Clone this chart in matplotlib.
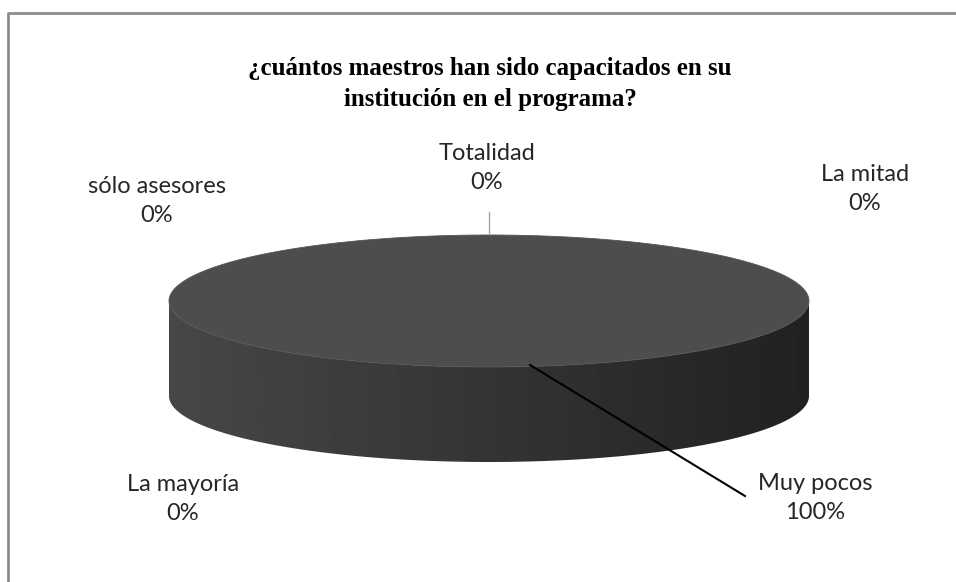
import numpy as np
import matplotlib
matplotlib.use("Agg")
import matplotlib.pyplot as plt
from matplotlib.patches import Polygon

# data
categories = ["Totalidad", "La mitad", "Muy pocos", "La mayoría", "sólo asesores"]
values = [0, 0, 100, 0, 0]
slice_colors = ["#4d4d4d", "#4d4d4d", "#4d4d4d", "#4d4d4d", "#4d4d4d"]
title = "¿cuántos maestros han sido capacitados en su\ninstitución en el programa?"

# label anchor positions (pixels) as Excel placed them
label_pos = [(487, 168), (865, 189), (815, 498), (183, 499), (157, 201)]

W, H = 956, 582
fig = plt.figure(figsize=(W / 100, H / 100), dpi=100)
ax = fig.add_axes([0, 0, 1, 1])
ax.set_xlim(0, W)
ax.set_ylim(H, 0)
ax.axis("off")

# chart frame
ax.plot([8, 8, W + 5], [H + 5, 13, 13], color="#8c8c8c", lw=2, solid_capstyle="butt")

cx, cy, rx, ry, depth = 489, 301, 320, 66, 95


def ell(theta, dy=0):
    # theta clockwise from top
    return cx + rx * np.sin(theta), cy - ry * np.cos(theta) + dy


# side (front half) with gradient
th = np.linspace(np.pi / 2, 3 * np.pi / 2, 200)
xt, yt = ell(th)
xb, yb = ell(th[::-1], depth)
side = Polygon(np.column_stack([np.r_[xt, xb], np.r_[yt, yb]]), closed=True,
               facecolor="none", edgecolor="none")
ax.add_patch(side)
grad = np.linspace(0.28, 0.13, 256)[None, :]
img = ax.imshow(grad, cmap="gray", vmin=0, vmax=1, aspect="auto",
                extent=[cx - rx, cx + rx, cy + ry + depth, cy], interpolation="bilinear")
img.set_clip_path(side)

# top face from the data
total = sum(values)
start = 0.0
for v, c in zip(values, slice_colors):
    if v <= 0:
        continue
    span = 2 * np.pi * v / total
    t = np.linspace(start, start + span, 300)
    x, y = ell(t)
    if span < 2 * np.pi - 1e-9:
        x, y = np.r_[cx, x], np.r_[cy, y]
    ax.add_patch(Polygon(np.column_stack([x, y]), closed=True, facecolor=c,
                         edgecolor="#555555", lw=0.6))
    start += span

# labels
for name, v, (lx, ly) in zip(categories, values, label_pos):
    pct = 100 * v / total
    ax.text(lx, ly, f"{name}\n{pct:.0f}%", ha="center", va="center",
            fontsize=17, family="Lato", color="#262626", linespacing=1.45)

# leader lines
ax.plot([489, 489], [212, 234], color="#a6a6a6", lw=1)
ax.plot([530, 745], [365, 496], color="black", lw=1.5)

ax.text(490, 84, title, ha="center", va="center", fontsize=18,
        family="Liberation Serif", fontweight="bold", linespacing=1.4)

fig.savefig("out.png", dpi=100)
